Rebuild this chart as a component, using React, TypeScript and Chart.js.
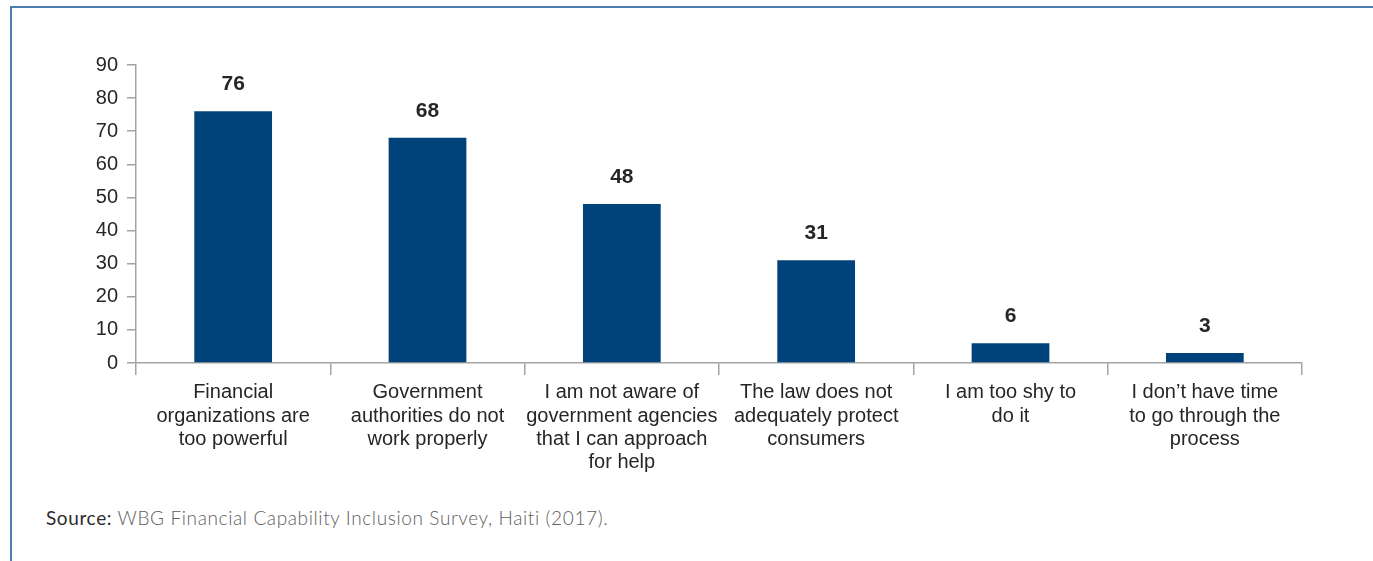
import React, { useEffect, useRef } from "react";
import { Chart, registerables } from "chart.js";

Chart.register(...registerables);

const categories: string[][] = [
  ["Financial", "organizations are", "too powerful"],
  ["Government", "authorities do not", "work properly"],
  ["I am not aware of", "government agencies", "that I can approach", "for help"],
  ["The law does not", "adequately protect", "consumers"],
  ["I am too shy to", "do it"],
  ["I don\u2019t have time", "to go through the", "process"],
];
const values: number[] = [76, 68, 48, 31, 6, 3];
const yTicks: number[] = [0, 10, 20, 30, 40, 50, 60, 70, 80, 90];

const FONT = "'Liberation Sans Narrow', 'Liberation Sans', Arial, sans-serif";
const AXIS_GRAY = "#a3a3a3";
const TEXT = "#262626";
const BAR = "#00437a";

const valueLabels = {
  id: "valueLabels",
  afterDatasetsDraw(chart: any) {
    const { ctx } = chart;
    const meta = chart.getDatasetMeta(0);
    ctx.save();
    ctx.font = `bold 21px ${FONT}`;
    ctx.fillStyle = TEXT;
    ctx.textAlign = "center";
    ctx.textBaseline = "middle";
    meta.data.forEach((bar: any, i: number) => {
      ctx.fillText(String(values[i]), bar.x, bar.y - 27);
    });
    ctx.restore();
  },
};

export default function App() {
  const ref = useRef<HTMLCanvasElement | null>(null);

  useEffect(() => {
    if (!ref.current) return;
    const chart = new Chart(ref.current, {
      type: "bar",
      data: {
        labels: categories,
        datasets: [
          {
            data: values,
            backgroundColor: BAR,
            barPercentage: 0.4,
            categoryPercentage: 1,
          },
        ],
      },
      options: {
        animation: false,
        responsive: false,
        maintainAspectRatio: false,
        layout: { padding: { top: 65, left: 0, right: 71, bottom: 17 } },
        plugins: {
          legend: { display: false },
          tooltip: { enabled: false },
        },
        scales: {
          x: {
            offset: true,
            afterFit: (s: any) => {
              s.height = 120;
            },
            grid: {
              offset: true,
              drawOnChartArea: false,
              drawTicks: true,
              tickLength: 12,
              color: AXIS_GRAY,
              lineWidth: 1.5,
            },
            border: { display: true, color: AXIS_GRAY, width: 1.5 },
            ticks: {
              color: TEXT,
              font: { family: FONT, size: 20, lineHeight: 1.17 },
              padding: 6,
              maxRotation: 0,
              autoSkip: false,
            },
          },
          y: {
            min: 0,
            max: 90,
            afterFit: (s: any) => {
              s.width = 136;
            },
            afterBuildTicks: (s: any) => {
              s.ticks = yTicks.map((v) => ({ value: v }));
            },
            grid: {
              drawOnChartArea: false,
              drawTicks: true,
              tickLength: 9,
              color: AXIS_GRAY,
              lineWidth: 1.5,
            },
            border: { display: true, color: AXIS_GRAY, width: 1.5 },
            ticks: {
              color: TEXT,
              font: { family: FONT, size: 20 },
              padding: 9,
            },
          },
        },
      },
      plugins: [valueLabels],
    });
    return () => chart.destroy();
  }, []);

  return (
    <div
      style={{
        position: "absolute",
        left: 0,
        top: 0,
        width: 1373,
        height: 561,
        background: "#ffffff",
        overflow: "hidden",
      }}
    >
      <div
        style={{
          position: "absolute",
          left: 10,
          top: 6,
          width: 1363,
          height: 555,
          borderTop: "2px solid #4a7db0",
          borderLeft: "2px solid #4a7db0",
          boxSizing: "border-box",
        }}
      />
      <canvas
        ref={ref}
        width={1373}
        height={500}
        style={{ position: "absolute", left: 0, top: 0, width: 1373, height: 500 }}
      />
      <div
        style={{
          position: "absolute",
          left: 46,
          top: 506,
          lineHeight: "24px",
          fontFamily: "Lato, 'Open Sans', sans-serif",
          fontSize: 19,
          letterSpacing: 0.62,
          color: "#606060",
          fontWeight: 300,
          whiteSpace: "nowrap",
        }}
      >
        <span style={{ color: "#2b2b2b", fontWeight: 400 }}>Source:</span> WBG Financial
        Capability Inclusion Survey, Haiti (2017).
      </div>
    </div>
  );
}
